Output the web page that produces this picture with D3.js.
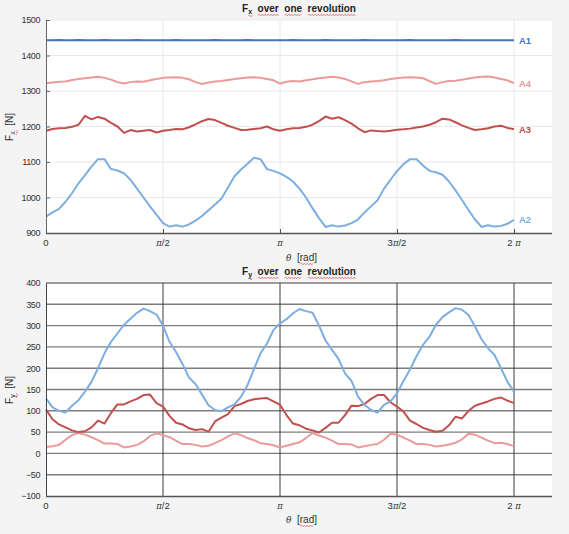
<!DOCTYPE html>
<html><head><meta charset="utf-8">
<script src="https://cdn.jsdelivr.net/npm/d3@7"></script>
<style>body{margin:0;background:#f4f4f4} svg{display:block;font-family:"Liberation Sans",Arial,sans-serif}</style>
</head><body><svg id="c" width="569" height="534"></svg>
<script>
// ---------- data ----------
const thetaDeg = [0,5,10,15,20,25,30,35,40,45,50,55,60,65,70,75,80,85,90,95,100,105,110,115,120,125,130,135,140,145,150,155,160,165,170,175,180,
  185,190,195,200,205,210,215,220,225,230,235,240,245,250,255,260,265,270,275,280,285,290,295,300,305,310,315,320,325,330,335,340,345,350,355,360];

const fxA1 = [1443,1443,1444,1443,1443,1444,1443,1443,1443,1444,1443,1443,1443,1443,1444,1443,1443,1443,1443,1443,1444,1443,1443,1443,1443,1443,1444,1443,1443,1443,1443,1444,1443,1443,1443,1443,1443,
  1443,1444,1443,1443,1443,1443,1444,1443,1443,1443,1443,1443,1444,1443,1443,1443,1443,1443,1443,1444,1443,1443,1443,1443,1443,1443,1444,1443,1443,1443,1443,1443,1443,1443,1443,1443];
const fxA2 = [946,958,968,988,1012,1040,1063,1087,1108,1108,1080,1076,1068,1050,1025,1000,975,952,928,918,922,918,924,935,948,964,980,997,1028,1060,1079,1095,1112,1108,1080,1075,1068,
  1058,1045,1025,1000,970,942,917,922,918,921,928,938,958,975,992,1025,1050,1074,1094,1108,1108,1090,1075,1071,1064,1045,1020,993,965,938,917,922,918,920,926,937];
const fxA3 = [1188,1193,1195,1196,1199,1205,1230,1220,1227,1222,1210,1200,1182,1190,1186,1188,1190,1183,1188,1190,1193,1192,1198,1206,1215,1221,1218,1210,1202,1196,1190,1191,1193,1195,1200,1192,1188,
  1192,1195,1196,1199,1205,1215,1228,1222,1226,1218,1208,1195,1184,1189,1187,1186,1188,1191,1192,1194,1197,1200,1205,1212,1222,1220,1212,1203,1196,1190,1192,1195,1200,1202,1196,1192];
const fxA4 = [1322,1324,1326,1327,1331,1334,1336,1338,1340,1337,1332,1325,1321,1325,1327,1326,1330,1334,1337,1338,1339,1337,1333,1325,1320,1324,1327,1328,1331,1334,1336,1338,1339,1337,1334,1330,1321,
  1326,1328,1327,1330,1333,1336,1338,1340,1338,1334,1327,1320,1325,1327,1328,1330,1334,1336,1338,1339,1338,1336,1328,1320,1325,1328,1329,1332,1335,1338,1340,1341,1338,1334,1330,1322];

const fyA2 = [129,108,100,96,112,125,145,168,200,235,262,282,302,316,330,340,334,326,300,262,238,210,178,163,138,113,102,99,108,115,133,160,198,235,258,290,305,
  315,329,339,334,330,300,265,243,222,188,170,133,114,102,96,114,122,141,170,197,228,255,274,302,320,331,341,337,325,298,268,247,231,200,168,145];
const fyA3 = [103,80,68,61,54,50,52,61,77,70,95,115,115,122,128,137,138,118,110,88,72,68,59,55,57,51,75,84,92,111,116,123,127,129,130,122,114,
  90,70,66,58,54,49,60,72,72,90,112,111,116,128,137,137,120,110,98,77,69,60,55,51,53,66,86,82,100,112,117,122,128,131,124,118];
const fyA4 = [15,17,20,32,43,48,44,38,31,23,23,22,14,16,20,28,41,47,43,38,30,22,22,20,16,18,24,31,40,47,43,36,31,24,22,19,14,
  18,22,26,36,48,42,37,30,22,22,21,14,17,20,22,32,46,44,37,30,22,22,20,16,18,21,25,33,46,44,37,30,24,25,22,17];

const topSeries = [
  {name:"A1", values:fxA1, color:"#4472c4"},
  {name:"A4", values:fxA4, color:"#eb9a9a"},
  {name:"A3", values:fxA3, color:"#c0504d"},
  {name:"A2", values:fxA2, color:"#7eaee0"}
];
const botSeries = [
  {name:"A2", values:fyA2, color:"#7eaee0"},
  {name:"A3", values:fyA3, color:"#c0504d"},
  {name:"A4", values:fyA4, color:"#eb9a9a"}
];

const xTickVals = [0, Math.PI/2, Math.PI, 3*Math.PI/2, 2*Math.PI];
const xTickLabels = ["0", "π/2", "π", "3π/2", "2 π"];
const yTopTicks = [900,1000,1100,1200,1300,1400,1500];
const yBotTicks = [-100,-50,0,50,100,150,200,250,300,350,400];

// ---------- drawing ----------
const svg = d3.select("#c");
const X0 = 46, X1 = 514, XR = 552;
const x = d3.scaleLinear().domain([0, 2*Math.PI]).range([X0, X1]);
const yTop = d3.scaleLinear().domain([900,1500]).range([233,20]);
const yBot = d3.scaleLinear().domain([-100,400]).range([496,283]);
const rad = d => d*Math.PI/180;

function squiggle(g, x0, x1, y){
  let p = `M${x0},${y}`; let up = true;
  for (let xx = x0+1.5; xx <= x1; xx += 1.5){ p += `L${xx},${y + (up?-1:1)}`; up = !up; }
  g.append("path").attr("d", p).attr("fill","none").attr("stroke","#e04646").attr("stroke-width",0.7).attr("opacity",0.8);
}

function title(yPos, sub){
  const g = svg.append("g");
  const t = g.append("text").attr("x", 299).attr("y", yPos).attr("text-anchor","middle")
    .attr("font-size", 10).attr("font-weight","bold").attr("fill","#222");
  t.append("tspan").text("F");
  const s = t.append("tspan").attr("font-size",7).attr("dy",2).text(sub);
  const w1 = t.append("tspan").attr("dy",-2).text("  over");
  const w2 = t.append("tspan").text("  one");
  const w3 = t.append("tspan").text("  revolution");
  t.attr("xml:space","preserve").style("white-space","pre");
  // underline squiggles under words
  const node = t.node();
  const full = node.getComputedTextLength();
  const start = 299 - full/2;
  const txt = node.textContent;
  function extent(i0, i1){
    const a = node.getStartPositionOfChar(i0).x, b = node.getEndPositionOfChar(i1).x;
    return [a,b];
  }
  const idxSub = 1;
  let e = extent(idxSub, idxSub); squiggle(g, e[0], e[1]+1, yPos+4);
  const o = txt.indexOf("over"); e = extent(o, o+3); squiggle(g, e[0], e[1], yPos+3);
  const n = txt.indexOf("one"); e = extent(n, n+2); squiggle(g, e[0], e[1], yPos+3);
  const r = txt.indexOf("revolution"); e = extent(r, r+9); squiggle(g, e[0], e[1], yPos+3);
}

function xAxisLabel(yPos){
  const g = svg.append("g");
  const t = g.append("text").attr("x", 286).attr("y", yPos).attr("font-size", 10).attr("fill","#333")
    .style("white-space","pre");
  t.append("tspan").attr("font-style","italic").attr("font-family","'DejaVu Serif',serif").attr("font-size",9).text("θ");
  t.append("tspan").text("  [rad]");
  const node = t.node(); const txt = node.textContent; const i = txt.indexOf("rad");
  const a = node.getStartPositionOfChar(i).x, b = node.getEndPositionOfChar(i+2).x;
  squiggle(g, a, b, yPos+3);
}

function yAxisLabel(cy, sub){
  const g = svg.append("g").attr("transform", `translate(13,${cy}) rotate(-90)`);
  const t = g.append("text").attr("text-anchor","middle").attr("font-size",10).attr("fill","#333").style("white-space","pre");
  t.append("tspan").text("F");
  t.append("tspan").attr("font-size",7).attr("dy",2).attr("fill","#333").text(sub);
  t.append("tspan").attr("dy",-2).text("  [N]");
  const node = t.node();
  const a = node.getStartPositionOfChar(1).x, b = node.getEndPositionOfChar(1).x;
  squiggle(g, a, b+1, 4);
}

function xTickText(g, yPos){
  xTickVals.forEach((v,i) => {
    const t = g.append("text").attr("x", x(v)).attr("y", yPos).attr("text-anchor","middle")
      .attr("font-size",9.5).attr("fill","#333");
    const parts = xTickLabels[i].split("π");
    parts.forEach((p,j) => {
      if (p) t.append("tspan").text(p);
      if (j < parts.length-1) t.append("tspan").attr("font-style","italic").attr("font-family","'DejaVu Serif',serif").attr("font-size",8.5).text("π");
    });
  });
}

// ===== top chart =====
svg.append("rect").attr("x",X0).attr("y",20).attr("width",XR-X0).attr("height",213).attr("fill","#ffffff");
const gt = svg.append("g");
gt.selectAll("line.hg").data(yTopTicks.filter(d=>d>900)).join("line")
  .attr("x1",X0).attr("x2",XR).attr("y1",d=>yTop(d)).attr("y2",d=>yTop(d))
  .attr("stroke","#e8e8e8").attr("stroke-width",1);
gt.selectAll("line.vg").data(xTickVals.slice(1)).join("line")
  .attr("x1",d=>x(d)).attr("x2",d=>x(d)).attr("y1",20).attr("y2",233)
  .attr("stroke","#e8e8e8").attr("stroke-width",1);

const lineTop = d3.line().x((d,i)=>x(rad(thetaDeg[i]))).y(d=>yTop(d));
topSeries.forEach(s => {
  gt.append("path").attr("d", lineTop(s.values)).attr("fill","none")
    .attr("stroke", s.color).attr("stroke-width", 2).attr("stroke-linejoin","round");
  gt.append("text").attr("x", 519).attr("y", yTop(s.values[s.values.length-1]) + 3.5)
    .attr("font-size",9.5).attr("font-weight","bold").attr("fill", s.color).text(s.name);
});

const yAxT = d3.axisLeft(yTop).tickValues(yTopTicks).tickSizeInner(-4).tickSizeOuter(0).tickPadding(6).tickFormat(d3.format("d"));
const gyt = svg.append("g").attr("transform",`translate(${X0},0)`).call(yAxT);
gyt.select(".domain").attr("stroke","#666");
gyt.selectAll(".tick line").attr("stroke","#666");
gyt.selectAll(".tick text").attr("font-size",9).attr("fill","#333").attr("font-family","'Liberation Sans',Arial,sans-serif").attr("letter-spacing",-0.4);

const xAxT = d3.axisBottom(x).tickValues(xTickVals).tickSizeInner(-4).tickSizeOuter(0).tickFormat("");
const gxt = svg.append("g").attr("transform","translate(0,233)").call(xAxT);
gxt.select(".domain").attr("d", `M${X0},0.5H${XR}`).attr("stroke","#555").attr("stroke-width",1.5);
gxt.selectAll(".tick line").attr("stroke","#555");
xTickText(svg.append("g"), 246);

title(12, "x");
xAxisLabel(261);
yAxisLabel(127, "x");

// ===== bottom chart =====
svg.append("rect").attr("x",X0).attr("y",283).attr("width",XR-X0).attr("height",213).attr("fill","#ffffff");
const gb = svg.append("g");
gb.selectAll("line.hg").data(yBotTicks.filter(d=>d>-100)).join("line")
  .attr("x1",X0).attr("x2",XR).attr("y1",d=>yBot(d)).attr("y2",d=>yBot(d))
  .attr("stroke","#7d7d7d").attr("stroke-width",1.4);
gb.selectAll("line.vg").data(xTickVals.slice(1)).join("line")
  .attr("x1",d=>x(d)).attr("x2",d=>x(d)).attr("y1",283).attr("y2",496)
  .attr("stroke","#3c3c3c").attr("stroke-width",1);

const lineBot = d3.line().x((d,i)=>x(rad(thetaDeg[i]))).y(d=>yBot(d));
botSeries.slice().reverse().forEach(s => {
  gb.append("path").attr("d", lineBot(s.values)).attr("fill","none")
    .attr("stroke", s.color).attr("stroke-width", 2).attr("stroke-linejoin","round");
});

const yAxB = d3.axisLeft(yBot).tickValues(yBotTicks).tickSizeInner(0).tickSizeOuter(0).tickPadding(6).tickFormat(d3.format("d"));
const gyb = svg.append("g").attr("transform",`translate(${X0},0)`).call(yAxB);
gyb.select(".domain").attr("stroke","#444");
gyb.selectAll(".tick text").attr("font-size",9).attr("fill","#333").attr("font-family","'Liberation Sans',Arial,sans-serif").attr("letter-spacing",-0.4);

const xAxB = d3.axisBottom(x).tickValues(xTickVals).tickSizeInner(0).tickSizeOuter(0).tickFormat("");
const gxb = svg.append("g").attr("transform","translate(0,496)").call(xAxB);
gxb.select(".domain").attr("d", `M${X0},0.5H${XR}`).attr("stroke","#555").attr("stroke-width",1.5);
xTickText(svg.append("g"), 509);

title(275, "y");
xAxisLabel(523);
yAxisLabel(390, "y");
</script></body></html>
